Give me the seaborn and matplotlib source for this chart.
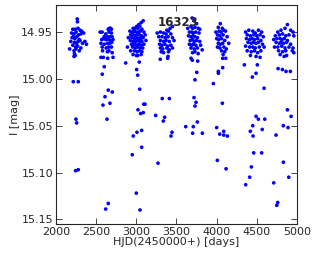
import pandas as pd
import matplotlib
matplotlib.use('Agg')
import matplotlib.pyplot as plt
import seaborn as sns

STAR_ID = '16323'

# HJD - 2450000 and I magnitude, one pair of lists per observing season
hjd_s1 = [2265, 2268, 2210, 2240, 2275, 2300, 2320, 2195, 2225, 2250, 2280, 2310, 2345,
          2215, 2235, 2260, 2290, 2200, 2185, 2230, 2255, 2275, 2300, 2330, 2360,
          2210, 2245, 2270, 2310, 2380, 2170, 2225, 2250, 2290, 2230, 2240, 2225,
          2216, 2278, 2249, 2258, 2245, 2278]
mag_s1 = [14.936, 14.939, 14.947, 14.947, 14.946, 14.948, 14.949, 14.951, 14.952, 14.950, 14.953, 14.952, 14.951,
          14.955, 14.957, 14.955, 14.958, 14.956, 14.960, 14.961, 14.962, 14.960, 14.959, 14.962, 14.960,
          14.964, 14.966, 14.965, 14.967, 14.963, 14.968, 14.970, 14.968, 14.970, 14.973, 14.975, 14.976,
          15.003, 15.003, 15.043, 15.047, 15.098, 15.097]

hjd_s2 = [2550, 2575, 2600, 2620, 2650, 2665, 2680, 2690, 2660, 2690, 2640, 2670, 2700,
          2570, 2590, 2620, 2655, 2680, 2710, 2560, 2600, 2640, 2670, 2695, 2575, 2625,
          2655, 2690, 2580, 2640, 2660, 2700, 2560, 2590, 2644, 2710,
          2601, 2576, 2651, 2701, 2610, 2585, 2672, 2635, 2651, 2619]
mag_s2 = [14.950, 14.950, 14.955, 14.952, 14.947, 14.946, 14.946, 14.947, 14.950, 14.951, 14.955, 14.955, 14.955,
          14.958, 14.957, 14.958, 14.958, 14.959, 14.958, 14.962, 14.963, 14.962, 14.962, 14.961, 14.966, 14.967,
          14.966, 14.966, 14.970, 14.971, 14.970, 14.972, 14.977, 14.977, 14.978, 14.977,
          14.987, 14.995, 15.012, 15.014, 15.019, 15.028, 15.026, 15.043, 15.133, 15.139]

hjd_s3 = [3085, 3060, 3030, 3005, 3045, 2960, 2985, 3020, 3070, 2920, 2950, 2975, 3000, 3025, 3050, 3095,
          2930, 2965, 2990, 3015, 3040, 3065, 3110, 2900, 2945, 2980, 3005, 3030, 3055, 3085,
          2925, 2960, 2995, 3020, 3045, 3070, 3120, 2940, 2975, 3000, 3030, 3060, 3095,
          2890, 2955, 2990, 3015, 3050, 3080, 2930, 2975, 3010, 3040, 3070, 2960, 3000, 3060,
          2868, 3017, 3037, 3004, 3017, 3042, 3021, 3054, 3087, 3092, 3108, 3008, 2962, 3067,
          2950, 3067, 3000, 3046]
mag_s3 = [14.938, 14.940, 14.942, 14.944, 14.944, 14.946, 14.946, 14.946, 14.947, 14.949, 14.950, 14.949, 14.950, 14.950, 14.949, 14.950,
          14.953, 14.953, 14.954, 14.953, 14.953, 14.954, 14.953, 14.956, 14.956, 14.957, 14.956, 14.957, 14.957, 14.956,
          14.959, 14.960, 14.960, 14.959, 14.960, 14.960, 14.959, 14.963, 14.963, 14.964, 14.963, 14.964, 14.963,
          14.966, 14.966, 14.967, 14.966, 14.967, 14.967, 14.970, 14.970, 14.971, 14.970, 14.971, 14.974, 14.975, 14.974,
          14.983, 14.975, 14.982, 14.990, 14.996, 15.011, 15.033, 15.037, 15.036, 15.027, 15.027, 15.057, 15.061, 15.055,
          15.081, 15.073, 15.122, 15.140]

hjd_s4 = [3450, 3420, 3380, 3400, 3260, 3300, 3340, 3370, 3430, 3280, 3320, 3360, 3395, 3450,
          3300, 3340, 3370, 3410, 3470, 3290, 3320, 3355, 3390, 3430, 3300, 3330, 3380, 3410, 3450,
          3310, 3340, 3400, 3298, 3390, 3395,
          3323, 3411, 3241, 3353, 3336, 3444, 3432, 3270]
mag_s4 = [14.944, 14.946, 14.948, 14.949, 14.951, 14.950, 14.951, 14.952, 14.952, 14.955, 14.955, 14.956, 14.955, 14.956,
          14.959, 14.960, 14.959, 14.960, 14.959, 14.963, 14.964, 14.963, 14.965, 14.964, 14.967, 14.968, 14.967, 14.969, 14.967,
          14.971, 14.972, 14.971, 14.979, 14.978, 14.976,
          15.021, 15.021, 15.039, 15.041, 15.045, 15.057, 15.061, 15.090]

hjd_s5 = [3695, 3720, 3750, 3640, 3680, 3700, 3730, 3770, 3790, 3660, 3690, 3710, 3740, 3780,
          3650, 3680, 3705, 3730, 3760, 3670, 3700, 3720, 3750, 3790, 3660, 3690, 3710, 3740, 3800,
          3680, 3720, 3760, 3820, 3700, 3730, 3770, 3681, 3697, 3764,
          3752, 3730, 3718, 3743, 3730, 3759, 3615, 3709, 3701, 3822]
mag_s5 = [14.935, 14.938, 14.941, 14.946, 14.944, 14.946, 14.945, 14.946, 14.947, 14.950, 14.950, 14.951, 14.950, 14.951,
          14.954, 14.955, 14.954, 14.955, 14.956, 14.959, 14.958, 14.960, 14.959, 14.960, 14.963, 14.964, 14.963, 14.964, 14.964,
          14.967, 14.968, 14.967, 14.969, 14.972, 14.971, 14.973, 14.978, 14.980, 14.981,
          14.993, 15.001, 15.020, 15.025, 15.029, 15.046, 15.051, 15.051, 15.058, 15.058]

hjd_s6 = [4045, 4020, 4070, 4090, 4110, 3990, 4030, 4055, 4010, 4040, 4080, 4130,
          4000, 4025, 4060, 4100, 4020, 4045, 4075, 4150, 4010, 4040, 4090, 4120,
          4060, 4100, 4080, 4075, 4113,
          4075, 4021, 4021, 3959, 4071, 4000, 4038, 4088, 4088, 4133, 4008, 4117]
mag_s6 = [14.941, 14.945, 14.946, 14.948, 14.949, 14.950, 14.949, 14.950, 14.953, 14.954, 14.953, 14.955,
          14.957, 14.958, 14.957, 14.959, 14.962, 14.963, 14.962, 14.962, 14.966, 14.967, 14.966, 14.968,
          14.970, 14.971, 14.974, 14.978, 14.978,
          14.988, 14.992, 14.994, 15.005, 15.026, 15.052, 15.059, 15.056, 15.060, 15.061, 15.087, 15.096]

hjd_s7 = [4360, 4400, 4450, 4480, 4520, 4560, 4380, 4420, 4460, 4500, 4540, 4580,
          4370, 4410, 4440, 4470, 4510, 4550, 4390, 4430, 4460, 4490, 4520, 4570,
          4360, 4410, 4450, 4480, 4530, 4590, 4380, 4430, 4470, 4510, 4550,
          4420, 4490, 4540, 4345, 4506,
          4490, 4444, 4590, 4490, 4519, 4598, 4449, 4419, 4453, 4567, 4461, 4560, 4432, 4411, 4361]
mag_s7 = [14.950, 14.948, 14.949, 14.951, 14.948, 14.950, 14.953, 14.954, 14.953, 14.954, 14.953, 14.955,
          14.957, 14.958, 14.957, 14.958, 14.957, 14.959, 14.961, 14.962, 14.961, 14.962, 14.961, 14.963,
          14.965, 14.966, 14.966, 14.967, 14.966, 14.966, 14.970, 14.971, 14.970, 14.972, 14.970,
          14.975, 14.976, 14.977, 14.985, 14.985,
          14.994, 14.998, 15.010, 15.040, 15.043, 15.043, 15.050, 15.056, 15.061, 15.054, 15.079, 15.079, 15.094, 15.105, 15.113]

hjd_s8 = [4880, 4850, 4800, 4920, 4950, 4760, 4730, 4780, 4820, 4860, 4900, 4960,
          4710, 4750, 4790, 4810, 4840, 4880, 4740, 4780, 4800, 4830, 4870, 4920,
          4720, 4760, 4810, 4850, 4900, 4950, 4770, 4820, 4860, 4940, 4790, 4840, 4870, 4960,
          4764, 4818, 4863, 4917, 4880, 4926, 4830, 4888, 4739, 4830, 4897, 4710, 4760, 4748]
mag_s8 = [14.942, 14.946, 14.948, 14.948, 14.950, 14.950, 14.954, 14.953, 14.952, 14.954, 14.953, 14.954,
          14.958, 14.957, 14.957, 14.958, 14.957, 14.959, 14.961, 14.962, 14.961, 14.962, 14.961, 14.963,
          14.966, 14.966, 14.965, 14.967, 14.966, 14.967, 14.970, 14.971, 14.970, 14.970, 14.974, 14.976, 14.975, 14.972,
          14.989, 14.990, 14.992, 14.992, 15.033, 15.040, 15.050, 15.052, 15.060, 15.089, 15.105, 15.111, 15.132, 15.135]

X_TICKS = [2000, 2500, 3000, 3500, 4000, 4500, 5000]
Y_TICKS = [14.95, 15.00, 15.05, 15.10, 15.15]


def build_frame():
    hjd = hjd_s1 + hjd_s2 + hjd_s3 + hjd_s4 + hjd_s5 + hjd_s6 + hjd_s7 + hjd_s8
    mag = mag_s1 + mag_s2 + mag_s3 + mag_s4 + mag_s5 + mag_s6 + mag_s7 + mag_s8
    return pd.DataFrame({'HJD': hjd, 'I': mag})


def plot_lightcurve(df):
    sns.set_style("ticks", {'xtick.direction': 'in', 'ytick.direction': 'in'})
    plt.rcParams['font.family'] = ['DejaVu Sans']

    fig = plt.figure(figsize=(3.16, 2.59), dpi=100)
    ax = fig.add_axes([0.177, 0.135, 0.763, 0.846])

    sns.scatterplot(x='HJD', y='I', data=df, ax=ax, color='blue',
                    s=7, edgecolor='none', linewidth=0)

    ax.set_xlim(2000, 5000)
    ax.set_ylim(15.155, 14.921)
    ax.set_xticks(X_TICKS)
    ax.set_yticks(Y_TICKS)
    ax.set_yticklabels([f'{v:.2f}' for v in Y_TICKS])
    ax.tick_params(labelsize=8, length=4, width=0.6, top=True, right=True, pad=2)
    for spine in ax.spines.values():
        spine.set_linewidth(0.8)

    ax.set_xlabel('HJD(2450000+) [days]', fontsize=8, labelpad=0)
    ax.set_ylabel('I [mag]', fontsize=8, labelpad=1)
    ax.text(0.506, 0.92, STAR_ID, transform=ax.transAxes, ha='center', va='center',
            fontsize=8.5, weight='bold')

    fig.savefig('out.png', dpi=100)
    plt.close(fig)


def main():
    df = build_frame()
    plot_lightcurve(df)


if __name__ == "__main__":
    main()
